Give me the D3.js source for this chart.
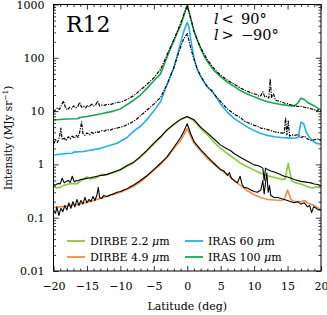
<!DOCTYPE html>
<html>
<head>
<meta charset="utf-8">
<script src="https://cdn.jsdelivr.net/npm/d3@7"></script>
<style>
  body { margin: 0; background: #fff; }
  svg text { font-family: "DejaVu Serif", "Liberation Serif", serif; fill: #000; }
</style>
</head>
<body>
<svg id="chart" width="327" height="315"></svg>
<script>
// ---------------- DATA ----------------
const xTicks = [-20, -15, -10, -5, 0, 5, 10, 15, 20];
const xTickLabels = ["\u221220", "\u221215", "\u221210", "\u22125", "0", "5", "10", "15", "20"];
const yTicks = [0.01, 0.1, 1, 10, 100, 1000];
const yTickLabels = ["0.01", "0.1", "1", "10", "100", "1000"];

// IRAS 100 um model (green)
const iras100ModelLat = [-20, -18, -16.5, -16, -15, -13, -11, -10, -8, -7, -6, -5, -4, -3, -2.5, -2, -1.5, -1, -0.5, 0, 0.5, 1, 1.5, 2, 2.5, 3, 4, 5, 6, 7, 8, 9, 10, 11, 12, 13, 14, 15, 16, 16.5, 17, 17.5, 18, 19, 20];
const iras100Model = [6.8, 7.1, 7.2, 7.6, 7.9, 8.8, 10, 11, 16, 20, 27, 37, 50, 105, 150, 210, 295, 400, 620, 980, 560, 320, 215, 150, 110, 85, 58, 44, 35, 29, 24, 21, 18.5, 16.5, 15, 14, 13.3, 12.8, 12.4, 14, 17.5, 16.5, 14.5, 12.5, 10.4];
// IRAS 100 um data (black dash-dot)
const iras100DataLat = [-20, -19.7, -19.4, -19.1, -18.8, -18.5, -18.2, -17.9, -17.6, -17.3, -17, -16.7, -16.4, -16.1, -15.8, -15.5, -15.2, -14.9, -14.6, -14.3, -14, -13.7, -13.4, -13.1, -12.8, -12.4, -12, -11.5, -11, -10.5, -10, -9.5, -9, -8.5, -8, -7.5, -7, -6.5, -6, -5, -4, -3, -2, -1, -0.5, 0, 0.5, 1, 1.5, 2, 3, 4, 5, 6, 7, 8, 8.5, 9, 9.5, 10, 10.4, 10.7, 11, 11.3, 11.6, 11.9, 12.2, 12.4, 12.6, 12.9, 13.2, 13.6, 14, 14.5, 15, 15.5, 16, 16.5, 17, 17.5, 18, 18.5, 19, 19.3, 19.6, 20];
const iras100Data = [9.5, 10.5, 11.5, 10.8, 13, 15.5, 11.5, 10.5, 11.8, 11, 12.5, 11.5, 12, 14.5, 11.8, 12.3, 11.5, 12.8, 12, 13.5, 12.5, 13, 15.5, 12.5, 13, 12.8, 13.5, 13.2, 14, 14.5, 14.8, 15.5, 16.5, 18, 19.5, 22, 25, 28, 32, 42, 60, 115, 220, 440, 660, 950, 560, 320, 215, 155, 92, 63, 47, 38, 32, 27, 25, 23.5, 22, 21, 20.5, 19, 19.5, 23, 18.5, 19, 17.5, 40, 18, 21, 16, 15.5, 15, 14.2, 13.8, 13, 12.8, 12.2, 12.3, 11.8, 11.5, 11, 10.8, 10, 10.6, 9.8];

// IRAS 60 um model (blue)
const iras60ModelLat = [-20, -18, -17.2, -17, -15.5, -13, -10.5, -9, -8, -7, -6, -5, -4, -3, -2, -1.5, -1, -0.5, 0, 0.25, 0.5, 1, 1.5, 2, 2.5, 3, 3.3, 3.6, 4, 5, 6, 7, 8, 9, 10, 11, 12, 13, 14, 15, 16, 16.6, 17, 17.4, 17.8, 18.3, 19, 19.5, 20];
const iras60Model = [1.5, 1.6, 1.62, 1.7, 1.75, 2.0, 2.5, 3.2, 4.2, 5.2, 7, 10, 15, 32, 66, 110, 190, 320, 460, 380, 230, 100, 60, 45, 35, 28, 26, 25.5, 21, 13.5, 9.5, 7.3, 6.0, 5.0, 4.3, 3.8, 3.5, 3.3, 3.2, 3.15, 3.1, 3.2, 6.2, 5.8, 4.0, 3.2, 2.6, 2.45, 2.4];
// IRAS 60 um data (black dash-dot)
const iras60DataLat = [-20, -19.7, -19.4, -19.1, -18.9, -18.7, -18.4, -18.1, -17.8, -17.5, -17.2, -16.9, -16.6, -16.3, -16, -15.8, -15.6, -15.3, -15, -14.6, -14.3, -14, -13.6, -13.2, -12.8, -12.4, -12, -11.5, -11, -10.5, -10, -9.5, -9, -8.5, -8, -7.5, -7, -6.5, -6, -5, -4, -3, -2, -1.5, -1, -0.5, 0, 0.3, 0.6, 1, 1.5, 2, 2.5, 3, 3.5, 4, 5, 6, 7, 8, 8.5, 9, 9.5, 10, 10.5, 11, 11.5, 12, 12.5, 13, 13.5, 14, 14.5, 14.7, 14.9, 15.1, 15.3, 15.6, 16, 16.5, 17, 17.5, 18, 18.5, 19, 19.5, 20];
const iras60Data = [2.4, 2.9, 2.6, 3.3, 4.8, 2.9, 3.1, 2.8, 3.3, 3.0, 3.4, 3.1, 3.5, 3.2, 4.5, 6.3, 3.8, 3.5, 3.9, 3.6, 4.0, 3.8, 4.1, 4.0, 4.3, 4.2, 4.5, 4.4, 4.7, 4.8, 5.0, 5.2, 5.6, 6.0, 6.5, 7.2, 8.2, 9.2, 10.5, 13.5, 18, 32, 65, 105, 160, 230, 285, 200, 140, 95, 62, 46, 36, 29, 25, 21, 15, 11, 8.8, 7.5, 6.5, 6.1, 5.8, 5.4, 5.2, 4.8, 4.7, 4.5, 4.3, 4.1, 4.0, 3.9, 3.8, 7.5, 3.6, 6.5, 3.4, 3.6, 3.5, 3.6, 3.2, 3.4, 3.0, 2.8, 2.9, 3.0, 2.8];

// DIRBE 2.2 um model (light green)
const dirbe22ModelLat = [-20, -19.6, -19, -18.5, -17.5, -16.5, -15.8, -15, -14.5, -13.5, -12.8, -12, -10, -8, -7, -6, -5, -4, -3, -2, -1, 0, 1, 2, 3, 4, 5, 6, 7, 8, 9, 10, 11, 12, 13, 14, 14.6, 15.1, 15.6, 16, 17, 18, 18.7, 19.3, 20];
const dirbe22Model = [0.41, 0.36, 0.37, 0.4, 0.44, 0.43, 0.5, 0.58, 0.53, 0.57, 0.65, 0.64, 0.78, 1.08, 1.38, 1.8, 2.4, 3.2, 4.4, 5.6, 6.9, 7.8, 6.6, 4.7, 3.6, 2.6, 2.0, 1.6, 1.3, 1.05, 0.9, 0.78, 0.68, 0.61, 0.57, 0.53, 0.52, 1.04, 0.5, 0.46, 0.43, 0.38, 0.36, 0.38, 0.36];
// DIRBE 2.2 um data (black solid)
const dirbe22DataLat = [-20, -19.6, -19.3, -19, -18.7, -18.4, -18.1, -17.8, -17.5, -17.2, -16.9, -16.6, -16.3, -16, -15.5, -15, -14.5, -14, -13.5, -13, -12.5, -12, -11, -10, -9, -8, -7, -6, -5, -4, -3, -2, -1, 0, 1, 2, 3, 4, 5, 6, 6.5, 7, 8, 9, 10, 10.5, 11, 11.3, 11.5, 11.7, 12, 12.5, 13, 13.5, 14, 14.5, 15, 15.5, 16, 16.5, 17, 17.5, 18, 18.5, 19, 19.5, 20];
const dirbe22Data = [0.41, 0.42, 0.44, 0.43, 0.55, 0.45, 0.48, 0.5, 0.46, 0.6, 0.47, 0.5, 0.49, 0.52, 0.53, 0.55, 0.56, 0.58, 0.6, 0.62, 0.63, 0.65, 0.72, 0.8, 0.95, 1.1, 1.4, 1.85, 2.5, 3.3, 4.5, 5.7, 7.0, 7.9, 6.9, 5.0, 3.9, 3.0, 2.3, 1.95, 1.8, 1.6, 1.35, 1.15, 0.98, 0.95, 0.9, 0.85, 0.5, 0.85, 0.8, 0.75, 0.72, 0.68, 0.64, 0.6, 0.58, 0.55, 0.52, 0.5, 0.48, 0.47, 0.46, 0.45, 0.43, 0.42, 0.4];

// DIRBE 4.9 um model (orange)
const dirbe49ModelLat = [-20, -18, -16, -14, -12, -10, -8, -7, -6, -5, -4, -3, -2, -1, -0.5, 0, 0.5, 1, 2, 3, 4, 5, 6, 7, 8, 9, 10, 11, 12, 13, 14, 14.5, 15, 15.5, 16, 17, 17.5, 18, 19, 20];
const dirbe49Model = [0.155, 0.165, 0.18, 0.21, 0.25, 0.3, 0.39, 0.47, 0.6, 0.78, 1.0, 1.35, 2.0, 2.8, 3.6, 4.7, 3.4, 2.5, 1.8, 1.3, 1.0, 0.78, 0.65, 0.5, 0.4, 0.32, 0.27, 0.24, 0.22, 0.215, 0.21, 0.22, 0.33, 0.22, 0.2, 0.2, 0.21, 0.19, 0.17, 0.14];
// DIRBE 4.9 um data (black solid)
const dirbe49DataLat = [-20, -19.7, -19.5, -19.2, -18.9, -18.6, -18.3, -18, -17.7, -17.4, -17.1, -16.8, -16.5, -16.2, -15.9, -15.6, -15.3, -15, -14.7, -14.4, -14.1, -13.8, -13.5, -13.3, -13.1, -12.8, -12.5, -12, -11.5, -11, -10.5, -10, -9.5, -9, -8.5, -8, -7, -6, -5, -4, -3, -2, -1, -0.5, 0, 0.5, 1, 2, 3, 4, 5, 5.5, 6, 6.3, 6.6, 7, 7.5, 7.9, 8.2, 8.5, 9, 9.5, 10, 10.5, 11, 11.3, 11.5, 11.7, 11.9, 12.1, 12.3, 12.5, 13, 13.5, 14, 14.5, 15, 15.5, 16, 16.5, 17, 17.5, 18, 18.3, 18.6, 18.9, 19.3, 19.6, 20];
const dirbe49Data = [0.14, 0.12, 0.16, 0.11, 0.15, 0.13, 0.17, 0.14, 0.19, 0.15, 0.2, 0.16, 0.22, 0.17, 0.21, 0.18, 0.24, 0.19, 0.22, 0.2, 0.25, 0.21, 0.27, 0.37, 0.24, 0.23, 0.26, 0.25, 0.27, 0.28, 0.3, 0.31, 0.33, 0.35, 0.38, 0.41, 0.5, 0.62, 0.8, 1.05, 1.4, 2.1, 3.2, 4.2, 5.8, 3.8, 2.7, 1.9, 1.4, 1.05, 0.8, 0.75, 0.62, 0.7, 0.55, 0.5, 0.45, 0.6, 0.42, 0.37, 0.36, 0.33, 0.31, 0.3, 0.33, 0.5, 0.28, 0.45, 0.69, 0.3, 0.4, 0.26, 0.24, 0.24, 0.23, 0.22, 0.21, 0.2, 0.19, 0.2, 0.18, 0.19, 0.16, 0.17, 0.125, 0.16, 0.15, 0.14, 0.14];

const legendLabels = ["DIRBE 2.2 ", "DIRBE 4.9 ", "IRAS 60 ", "IRAS 100 "];
const legendColors = ["#8cc63f", "#f58a4c", "#1fb2ec", "#1aa64f"];

// ---------------- CHART ----------------
const SERIF = '"DejaVu Serif", "Liberation Serif", serif';
const svg = d3.select("#chart");
const L = 53.5, R = 321, T = 4.5, B = 271;
const x = d3.scaleLinear().domain([-20, 20]).range([L, R]);
const y = d3.scaleLog().domain([0.01, 1000]).range([B, T]);

svg.append("clipPath").attr("id", "clip")
  .append("rect").attr("x", L).attr("y", T).attr("width", R - L).attr("height", B - T);

const line = d3.line().x(d => x(d[0])).y(d => y(d[1]));
const zip = (a, b) => a.map((v, i) => [v, b[i]]);

const g = svg.append("g").attr("clip-path", "url(#clip)");

function drawModel(lat, val, color) {
  g.append("path").datum(zip(lat, val)).attr("d", line)
    .attr("fill", "none").attr("stroke", color).attr("stroke-width", 1.6)
    .attr("stroke-linejoin", "round");
}
function drawData(lat, val, dashed) {
  g.append("path").datum(zip(lat, val)).attr("d", line)
    .attr("fill", "none").attr("stroke", "#000").attr("stroke-width", dashed ? 1.2 : 1.1)
    .attr("stroke-linejoin", "round")
    .attr("stroke-dasharray", dashed ? "3.5,1.2,1.2,1.2" : null);
}

drawModel(iras100ModelLat, iras100Model, legendColors[3]);
drawModel(iras60ModelLat, iras60Model, legendColors[2]);
drawModel(dirbe22ModelLat, dirbe22Model, legendColors[0]);
drawModel(dirbe49ModelLat, dirbe49Model, legendColors[1]);
drawData(iras100DataLat, iras100Data, true);
drawData(iras60DataLat, iras60Data, true);
drawData(dirbe22DataLat, dirbe22Data, false);
drawData(dirbe49DataLat, dirbe49Data, false);

// ---------------- AXES ----------------
const xMinor = d3.range(-20, 21, 1).filter(v => v % 5 !== 0);
const yMinor = [];
[0.01, 0.1, 1, 10, 100].forEach(d => { for (let k = 2; k <= 9; k++) yMinor.push(d * k); });

function styleAxis(sel) {
  sel.attr("font-family", null).attr("font-size", null);
  sel.select(".domain").remove();
  sel.selectAll(".tick line").attr("stroke", "#000").attr("stroke-width", 0.8);
  sel.selectAll("text").style("font-family", SERIF).style("font-size", "11px");
}

svg.append("g").attr("transform", `translate(0,${B})`)
  .call(d3.axisBottom(x).tickValues(xTicks).tickSize(-5).tickPadding(11)
    .tickFormat((d, i) => xTickLabels[i])).call(styleAxis);
svg.append("g").attr("transform", `translate(0,${B})`)
  .call(d3.axisBottom(x).tickValues(xMinor).tickSize(-2.5).tickFormat("")).call(styleAxis);
svg.append("g").attr("transform", `translate(0,${T})`)
  .call(d3.axisTop(x).tickValues(xTicks).tickSize(-5).tickFormat("")).call(styleAxis);
svg.append("g").attr("transform", `translate(0,${T})`)
  .call(d3.axisTop(x).tickValues(xMinor).tickSize(-2.5).tickFormat("")).call(styleAxis);

svg.append("g").attr("transform", `translate(${L},0)`)
  .call(d3.axisLeft(y).tickValues(yTicks).tickSize(-5).tickPadding(9)
    .tickFormat((d, i) => yTickLabels[i])).call(styleAxis);
svg.append("g").attr("transform", `translate(${L},0)`)
  .call(d3.axisLeft(y).tickValues(yMinor).tickSize(-2.5).tickFormat("")).call(styleAxis);
svg.append("g").attr("transform", `translate(${R},0)`)
  .call(d3.axisRight(y).tickValues(yTicks).tickSize(-5).tickFormat("")).call(styleAxis);
svg.append("g").attr("transform", `translate(${R},0)`)
  .call(d3.axisRight(y).tickValues(yMinor).tickSize(-2.5).tickFormat("")).call(styleAxis);

svg.append("rect").attr("x", L).attr("y", T).attr("width", R - L).attr("height", B - T)
  .attr("fill", "none").attr("stroke", "#000").attr("stroke-width", 1);

// axis titles
svg.append("text").attr("x", (L + R) / 2).attr("y", 310).attr("text-anchor", "middle")
  .style("font-family", SERIF).style("font-size", "11px").text("Latitude (deg)");
const yt = svg.append("text").attr("transform", `translate(12,${(T + B) / 2}) rotate(-90)`)
  .attr("text-anchor", "middle").style("font-family", SERIF).style("font-size", "10.5px");
yt.append("tspan").text("Intensity (MJy sr");
yt.append("tspan").attr("dy", -4).style("font-size", "7.5px").text("\u22121");
yt.append("tspan").attr("dy", 4).text(")");

// annotations
svg.append("text").attr("x", 66).attr("y", 32).style("font-family", SERIF)
  .style("font-size", "22px").text("R12");
const annot = [["\u2009<\u2002", "90\u00B0", 24], ["\u2009>\u2002", "\u221290\u00B0", 40]];
annot.forEach(([op, val, yy]) => {
  const t = svg.append("text").attr("x", 214).attr("y", yy)
    .style("font-family", SERIF).style("font-size", "14.5px");
  t.append("tspan").style("font-style", "italic").text("l");
  t.append("tspan").text(op);
  t.append("tspan").text(val);
});

// legend
const legPos = [[67, 241], [67, 257], [185, 241], [185, 257]];
legendLabels.forEach((lab, i) => {
  const [lx, ly] = legPos[i];
  svg.append("line").attr("x1", lx).attr("x2", lx + 18).attr("y1", ly).attr("y2", ly)
    .attr("stroke", legendColors[i]).attr("stroke-width", 1.8);
  const t = svg.append("text").attr("x", lx + 23).attr("y", ly + 4)
    .style("font-family", SERIF).style("font-size", "11px");
  t.append("tspan").text(lab);
  t.append("tspan").style("font-style", "italic").text("\u03BC");
  t.append("tspan").text("m");
});
</script>
</body>
</html>
